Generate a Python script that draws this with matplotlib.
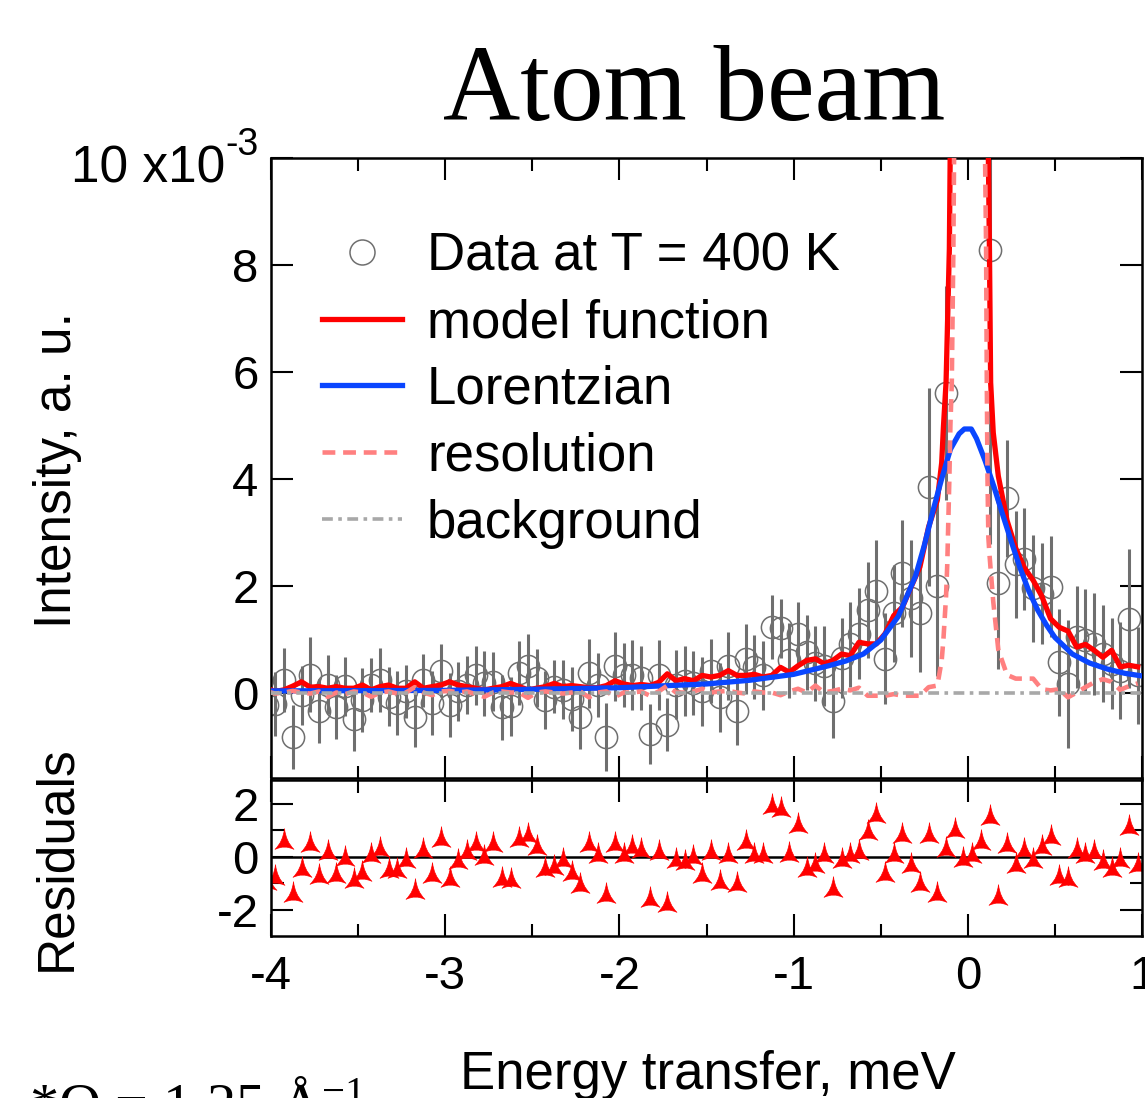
import numpy as np
import matplotlib
matplotlib.use('Agg')
import matplotlib.pyplot as plt
from matplotlib.path import Path
from matplotlib.lines import Line2D

plt.rcParams['font.family'] = ['Liberation Sans', 'DejaVu Sans']
plt.rcParams['mathtext.default'] = 'regular'
plt.rcParams['axes.unicode_minus'] = False

# energy channels (meV)
energy = np.round(-4.025 + 0.05 * np.arange(101), 3)

# measured intensity (x1e-3) and error bars
intensity = [-0.23, -0.22, 0.24, -0.83, -0.05, 0.33, -0.34, 0.15, -0.27, 0.12,
             -0.5, -0.14, 0.14, 0.23, -0.08, -0.2, 0.02, -0.46, 0.23, -0.2,
             0.41, -0.24, 0.02, 0.14, 0.32, 0.17, 0.2, -0.28, -0.26, 0.36,
             0.5, 0.27, -0.14, 0.11, 0.05, -0.12, -0.45, 0.36, 0.14, -0.83,
             0.49, 0.33, 0.33, 0.27, -0.77, 0.33, -0.6, 0.15, 0.22, 0.18,
             0.02, 0.41, -0.09, 0.5, -0.34, 0.63, 0.48, 0.32, 1.22, 1.2,
             0.6, 1.1, 0.75, 0.55, 0.5, -0.15, 0.64, 0.9, 1.1, 1.54,
             1.9, 0.63, 1.48, 2.23, 1.76, 1.48, 3.85, 2.0, 5.6, 16.0,
             42.0, 46.0, 20.0, 8.28, 2.04, 3.63, 2.4, 2.5, 1.95, 1.85,
             1.98, 0.57, 0.16, 1.04, 0.98, 0.91, 0.73, 0.54, 0.41, 1.38, 0.32]
intensity_err = [0.55, 0.6, 0.6, 0.6, 0.55, 0.7, 0.6, 0.55, 0.6, 0.55,
                 0.6, 0.6, 0.5, 0.6, 0.55, 0.6, 0.5, 0.55, 0.5, 0.6,
                 0.5, 0.6, 0.55, 0.55, 0.55, 0.6, 0.55, 0.6, 0.55, 0.6,
                 0.6, 0.55, 0.55, 0.5,
                 0.55, 0.6, 0.6, 0.65, 0.6, 0.63, 0.65, 0.6, 0.65, 0.6,
                 0.56, 0.65, 0.5, 0.65, 0.65, 0.6,
                 0.65, 0.6, 0.65, 0.64, 0.65, 0.65, 0.6, 0.65, 0.6, 0.55,
                 0.7, 0.6, 0.7, 0.7, 0.75, 0.7,
                 0.75, 0.8, 0.85, 0.9, 0.95, 0.85, 0.9, 1.0, 1.1, 1.1, 1.85, 1.7, 2.0,
                 3.0, 4.0, 4.0, 3.0, 5.5,
                 1.6, 1.1, 1.0, 0.95, 1.0, 0.95, 0.95, 1.0, 1.2, 0.95, 0.95, 0.95,
                 0.9, 0.85, 0.9, 1.3, 0.9]

residuals = [-0.9, -0.73, 0.65, -1.36, -0.42, 0.53, -0.69, 0.21, -0.67, -0.01,
             -0.86, -0.57, 0.09, 0.34, -0.48, -0.48, -0.1, -1.27, 0.28, -0.67,
             0.72, -0.79, -0.14, 0.21, 0.53, 0.03, 0.53, -0.79, -0.86, 0.72,
             0.84, 0.4, -0.42, -0.35, -0.1, -0.57, -1.04, 0.53, 0.09, -1.42,
             0.53, 0.09, 0.4, 0.28, -1.55, 0.21, -1.74, -0.1, -0.16, 0.03,
             -0.67, 0.21, -0.92, 0.09, -0.98, 0.59, 0.09, 0.09, 1.97, 1.85,
             0.15, 1.22, -0.42, -0.29, 0.09, -1.17, -0.1, 0.09, 0.21, 0.97,
             1.6, -0.6, 0.09, 0.84, -0.29, -0.98, 0.84, -1.36, 0.34, 1.03,
             -0.04, 0.09, 0.59, 1.53, -1.48, 0.47, -0.29, 0.28, -0.1, 0.4,
             0.78, -0.73, -0.79, 0.28, 0.09, 0.21, -0.16, -0.42, -0.1, 1.16, -0.29]

# fit curves: tails on the channel grid, extra points across the elastic line
peak_e = [-0.15, -0.14, -0.125, -0.118, -0.106, -0.1, -0.092, -0.083, -0.079, -0.05,
          0.0, 0.05, 0.095, 0.099, 0.105, 0.109, 0.113, 0.118, 0.124, 0.131, 0.146]

model_left = [0.08, 0.02, 0.05, 0.12, 0.2, 0.1, 0.11, 0.08, 0.11, 0.08,
              0.08, 0.14, 0.05, 0.11, 0.14, 0.08, 0.08, 0.2, 0.08, 0.11,
              0.14, 0.2, 0.14, 0.11, 0.08, 0.05, 0.08, 0.11, 0.17, 0.11,
              0.05, 0.08, 0.11, 0.17,
              0.11, 0.13, 0.11, 0.09, 0.09, 0.13, 0.22, 0.16, 0.13, 0.15,
              0.13, 0.19, 0.35, 0.22, 0.26, 0.22, 0.32, 0.29, 0.32, 0.41,
              0.32, 0.32, 0.34, 0.29, 0.32, 0.47, 0.38, 0.5, 0.6, 0.63,
              0.54, 0.6, 0.72, 0.69, 0.94,
              0.91, 0.91, 1.1, 1.44, 1.6, 1.98, 2.35, 3.1, 3.6]
model_peak = [4.3, 4.97, 5.8, 6.7, 8.3, 10.5, 14.0, 20.0, 23.0, 32.0,
              36.0, 32.0, 20.0, 17.0, 14.0, 12.0, 11.0, 10.0, 8.3, 5.8, 4.86]
model_right = [4.05, 3.22, 2.7, 2.33, 2.1, 1.8, 1.38, 1.22, 1.15, 0.85,
               0.9, 0.79, 0.66, 0.79, 0.48, 0.51, 0.48]

res_left = [0.02, -0.02, 0.0, 0.03, 0.0, -0.02, 0.02, -0.08, 0.0, -0.03,
            0.02, 0.0, -0.08, 0.0, 0.02, -0.02, 0.0, 0.1, 0.0, -0.05,
            0.02, 0.03, 0.0, 0.02, -0.03, -0.08, 0.0, 0.02, 0.0, 0.0,
            -0.1, 0.0, 0.02, 0.0,
            -0.02, 0.0, 0.02, -0.09, 0.0, 0.02, -0.08, 0.0, 0.0, 0.02,
            -0.06, 0.02, 0.13, 0.0, 0.0, 0.02,
            0.07, 0.0, 0.02, 0.03, 0.0, -0.02, 0.02, 0.0, 0.0, -0.05,
            0.02, 0.07, 0.0, 0.13, 0.0, 0.03, 0.07, 0.04, 0.09,
            -0.06, -0.06, -0.06, -0.03, -0.06, -0.06, -0.06, 0.1, 0.13]
res_peak = [0.6, 1.0, 1.8, 2.4, 4.0, 5.0, 5.8, 8.3, 10.0, 22.0,
            32.0, 24.0, 12.0, 10.0, 8.3, 5.8, 4.0, 2.9, 2.6, 2.3, 1.7]
res_right = [0.8, 0.33, 0.26, 0.26, 0.26, 0.06, 0.04, 0.06, -0.09, 0.0,
             0.1, 0.19, 0.25, 0.2, 0.05, 0.12, 0.17]

lor_e = [-4.0, -3.5, -3.0, -2.5, -2.0, -1.5, -1.25, -1.0, -0.9, -0.8, -0.7, -0.6,
         -0.5, -0.4, -0.3, -0.25, -0.2, -0.15, -0.1, -0.05, -0.02, 0.02, 0.05,
         0.1, 0.15, 0.2, 0.25, 0.3, 0.35, 0.4, 0.45, 0.5, 0.6, 0.7, 0.8, 0.9, 1.0]
lor_y = [0.03, 0.035, 0.04, 0.06, 0.09, 0.16, 0.23, 0.34, 0.42, 0.5, 0.59, 0.72,
         0.98, 1.42, 2.18, 2.75, 3.4, 4.0, 4.55, 4.84, 4.93, 4.93, 4.75,
         4.33, 3.85, 3.33, 2.82, 2.33, 1.9, 1.55, 1.27, 1.03, 0.72, 0.55, 0.44, 0.36, 0.31]

bg_level = 0.0

n_left = len(model_left)
fit_e = np.concatenate([energy[:n_left], peak_e, energy[-len(model_right):]])
fit_model = np.concatenate([model_left, model_peak, model_right])
fit_res = np.concatenate([res_left, res_peak, res_right])

grey = '#6f6f6f'
red = '#ff0000'
blue = '#0a46ff'
pink = '#ff8080'
bg_grey = '#a8a8a8'
res_dash = (0, (2.8, 1.7))
bg_dash = (0, (3, 1.5, 1, 1.5))

fig = plt.figure(figsize=(11.45, 10.98), dpi=100)
ax = fig.add_axes([0.2367, 0.2914, 0.7607, 0.5647])
axr = fig.add_axes([0.2367, 0.1475, 0.7607, 0.1421])

ax.errorbar(energy, intensity, yerr=intensity_err, fmt='o', ms=16, mfc='none',
            mec=grey, mew=1.1, ecolor=grey, elinewidth=2.2, capsize=0, zorder=2)
ax.plot(fit_e, fit_model, color=red, lw=3.8, zorder=3)
ax.plot(lor_e, lor_y, color=blue, lw=3.8, zorder=4)
ax.plot(fit_e, fit_res, color=pink, lw=3.3, ls=res_dash, zorder=5)
ax.axhline(bg_level, color=bg_grey, lw=2.6, ls=bg_dash, zorder=6)

ax.set_xlim(-4, 1)
ax.set_ylim(-1.6, 10)
ax.set_xticks(range(-4, 2))
ax.set_xticks(np.arange(-4, 1.01, 0.5), minor=True)
ax.set_yticks([0, 2, 4, 6, 8, 10])
ax.set_yticklabels(['0', '2', '4', '6', '8', ''])
ax.tick_params(which='both', direction='in', top=True, right=True, width=1.5,
               labelbottom=False, labelsize=34, pad=9)
ax.tick_params(which='major', length=16)
ax.tick_params(which='minor', length=9)

# top tick label with its exponent
fig.text(0.1965, 0.8342, '10 x10', fontsize=37, ha='right', va='baseline')
fig.text(0.1965, 0.8588, '-3', fontsize=27, ha='left', va='baseline')

# concave arrowhead marker for residuals
arrow = Path([(0, 1), (0.12, -0.1), (0.8, -0.75), (0, -0.35), (-0.8, -0.75),
              (-0.12, -0.1), (0, 1), (0, 1)],
             [Path.MOVETO, Path.CURVE3, Path.CURVE3, Path.CURVE3, Path.CURVE3,
              Path.CURVE3, Path.CURVE3, Path.CLOSEPOLY])
axr.axhline(0, color='black', lw=1.8, zorder=1)
axr.plot(energy, residuals, ls='none', marker=arrow, ms=17, color=red, mec=red,
         mew=0.5, zorder=2)
axr.set_xlim(-4, 1)
axr.set_ylim(-3.0, 2.9)
axr.set_xticks(range(-4, 2))
axr.set_xticks(np.arange(-4, 1.01, 0.5), minor=True)
axr.set_yticks([-2, 0, 2])
axr.set_yticks([-1, 1], minor=True)
axr.tick_params(which='both', direction='in', top=True, right=True, width=1.5,
                labelsize=34)
axr.tick_params(axis='y', pad=9)
axr.tick_params(axis='x', pad=14)
axr.tick_params(which='major', length=16)
axr.tick_params(which='minor', length=9)

for a in (ax, axr):
    for s in a.spines.values():
        s.set_linewidth(1.8)

handles = [Line2D([], [], ls='none', marker='o', ms=18, mfc='none', mec=grey, mew=1.1),
           Line2D([], [], color=red, lw=3.8),
           Line2D([], [], color=blue, lw=3.8),
           Line2D([], [], color=pink, lw=3.3, ls=res_dash),
           Line2D([], [], color=bg_grey, lw=2.6, ls=bg_dash)]
labels = ['Data at T = 400 K', 'model function', 'Lorentzian', 'resolution', 'background']
ax.legend(handles, labels, loc='upper left', bbox_to_anchor=(0.058, 0.882),
          frameon=False, fontsize=38, handlelength=1.53, handletextpad=0.47,
          labelspacing=0.32, borderpad=0, borderaxespad=0)

fig.text(0.606, 0.8907, 'Atom beam', family=['Liberation Serif', 'DejaVu Serif'],
         fontsize=77, ha='center', va='baseline')
fig.text(0.0498, 0.572, 'Intensity, a. u.', rotation=90, fontsize=37,
         ha='center', va='center')
fig.text(0.0498, 0.2186, 'Residuals', rotation=90, fontsize=37,
         ha='center', va='center')
fig.text(0.4017, 0.0082, 'Energy transfer, meV', fontsize=38, ha='left', va='baseline')
fig.text(0.025, -0.0228, '*Q = 1.25 Å$^{-1}$', family=['Liberation Serif', 'DejaVu Serif'],
         fontsize=42, ha='left', va='baseline')

fig.savefig('out.png', dpi=100, facecolor='white')
